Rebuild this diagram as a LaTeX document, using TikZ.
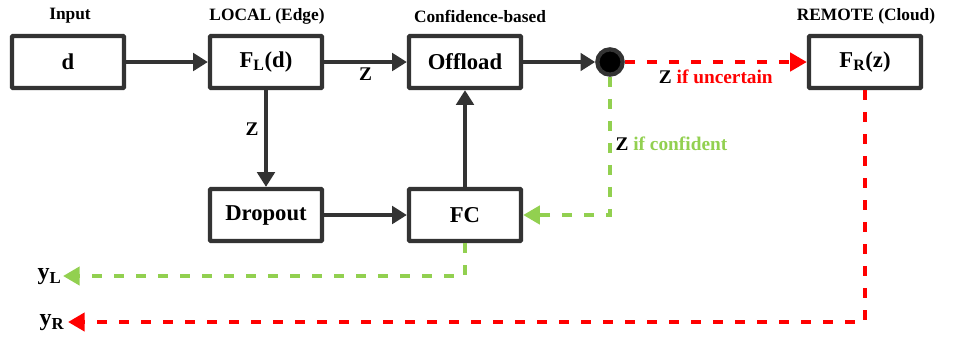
\documentclass[tikz,border=0pt]{standalone}
\usepackage{fontspec}
\setmainfont{Liberation Serif}
\usepackage{xcolor}
\usetikzlibrary{arrows.meta,positioning,calc}
\definecolor{dgray}{RGB}{51,51,51}
\definecolor{cgreen}{RGB}{146,208,80}
\tikzset{
  blk/.style = {rectangle, draw=dgray, line width=3.2pt, rounded corners=0.6pt,
    minimum width=84pt, minimum height=39pt, inner sep=0pt,
    font=\fontsize{17}{17}\selectfont\bfseries},% bloc de traitement
  ttl/.style = {font=\fontsize{13}{13}\selectfont\bfseries},% titre au-dessus
  lbl/.style = {font=\fontsize{14.5}{14.5}\selectfont\bfseries, inner sep=1pt},% etiquette
  outl/.style = {font=\fontsize{18}{18}\selectfont\bfseries, inner sep=1pt},% sortie y
  junc/.style = {circle, fill=black, draw=dgray, line width=3.2pt,
    minimum size=19pt, inner sep=0pt},% point de decision
  fwd/.style = {draw=dgray, line width=3.2pt, -{Triangle[length=11pt,width=13pt]}},
  up_r/.style = {draw=red, line width=3.2pt, dash pattern=on 7.5pt off 9pt,
    -{Triangle[length=12.5pt,width=13.5pt]}},% vers le cloud
  lo_g/.style = {draw=cgreen, line width=3.2pt, dash pattern=on 7.5pt off 9pt,
    -{Triangle[length=12.5pt,width=13.5pt]}}% reste local
}

\begin{document}
\begin{tikzpicture}[x=0.75pt, y=-0.75pt]
\useasboundingbox (0,0) rectangle (958,340);

% blocs
\node[blk] (inp) at (68,62) {d};
\node[blk] (loc) at (266,62) {F\textsubscript{L}(d)};
\node[blk] (off) at (465,62) {Offload};
\node[junc] (sw) at (610,62) {};
\node[blk] (rem) at (865,62) {F\textsubscript{R}(z)};
\node[blk] (drp) at (266,215) {Dropout};
\node[blk] (fc) at (465,215) {FC};

% titres
\node[ttl] (t_inp) at (70,16) {Input};
\node[ttl] (t_loc) at (267,16) {LOCAL (Edge)};
\node[ttl] (t_off) at (480,16) {Confidence-based};
\node[ttl] (t_rem) at (866,16) {REMOTE (Cloud)};

% sorties
\coordinate (yLtip) at (63,276);
\coordinate (yRtip) at (68,322);
\node[outl, anchor=east] (yL) at (63,277) {y\textsubscript{L}};
\node[outl, anchor=east] (yR) at (66,323) {y\textsubscript{R}};

% liaisons
\draw[fwd] (inp) -- (loc);
\draw[fwd] (loc) -- node[lbl, below=2pt] (z1) {Z} (off);
\draw[fwd] (loc) -- node[lbl, left=3pt, pos=0.4] (z2) {Z} (drp);
\draw[fwd] (drp) -- (fc);
\draw[fwd] (fc) -- (off);
\draw[fwd] (off) -- (sw);
\draw[up_r] (sw) -- node[lbl, below=3pt] (zu) {Z \textcolor{red}{if uncertain}} (rem);
\draw[lo_g] (sw.south) |- (fc.east);
\node[lbl, anchor=west] (zc) at (614,144) {Z \textcolor{cgreen}{if confident}};
\draw[lo_g] (fc.south) |- (yLtip);
\draw[up_r] (rem.south) |- (yRtip);
\end{tikzpicture}
\end{document}
